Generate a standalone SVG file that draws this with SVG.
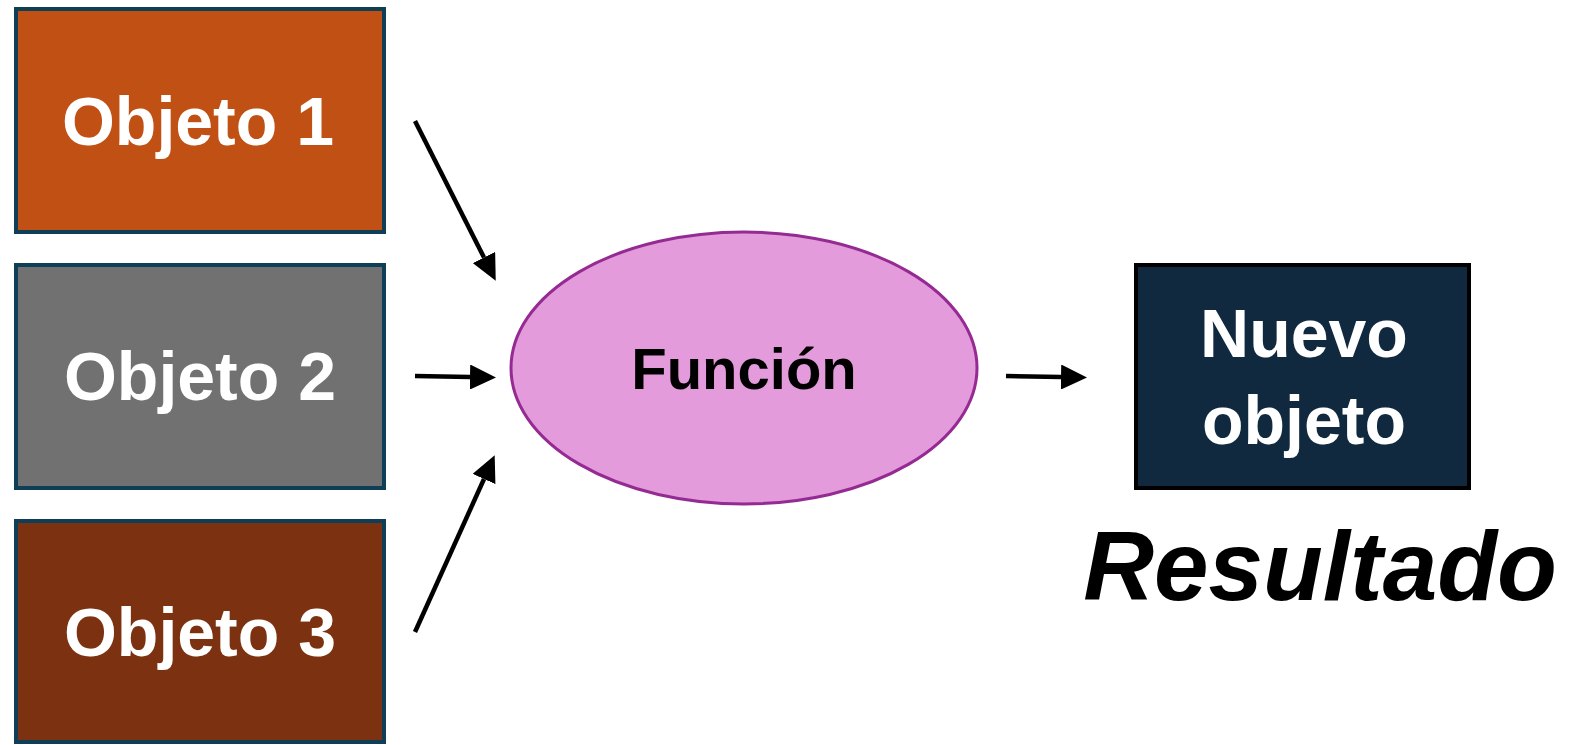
<svg xmlns="http://www.w3.org/2000/svg" width="1570" height="745" viewBox="0 0 1570 745">
  <style>
    .box { stroke: #0e3f56; stroke-width: 4; }
    .label { font-family: "Liberation Sans", Arial, sans-serif; font-weight: bold; text-anchor: middle; }
    .white { fill: #ffffff; font-size: 68px; }
    .conn { stroke: #000000; stroke-width: 4.5; fill: none; marker-end: url(#head); }
  </style>
  <defs>
    <!-- arrowhead starts where the line stops -->
    <marker id="head" markerUnits="userSpaceOnUse" markerWidth="27" markerHeight="25" refX="0" refY="12.5" orient="auto">
      <path d="M0,0 L26,12.5 L0,25 Z" fill="#000000"/>
    </marker>
  </defs>
  <rect width="1570" height="745" fill="#ffffff"/>

  <g id="obj1">
    <rect class="box" x="16" y="9" width="368" height="223" fill="#c05014"/>
    <text class="label white" x="198" y="145">Objeto 1</text>
  </g>
  <g id="obj2">
    <rect class="box" x="16" y="265" width="368" height="223" fill="#717171"/>
    <text class="label white" x="200" y="400">Objeto 2</text>
  </g>
  <g id="obj3">
    <rect class="box" x="16" y="521" width="368" height="221" fill="#7c3210"/>
    <text class="label white" x="200" y="656">Objeto 3</text>
  </g>

  <g id="funcion">
    <ellipse cx="744" cy="368" rx="233" ry="136" fill="#e39bdb" stroke="#952b92" stroke-width="3"/>
    <text class="label" x="744" y="389" font-size="58" fill="#000000">Función</text>
  </g>

  <g id="nuevo">
    <rect x="1136" y="265" width="333" height="223" fill="#10293f" stroke="#000000" stroke-width="4"/>
    <text class="label white" x="1304" y="357">Nuevo</text>
    <text class="label white" x="1304" y="444">objeto</text>
  </g>

  <g id="resultado">
    <text class="label" x="1320" y="600" font-size="98" font-style="italic" fill="#000000">Resultado</text>
  </g>

  <g id="connectors">
    <line class="conn" x1="415" y1="121" x2="484" y2="257.5"/>
    <line class="conn" x1="415" y1="376" x2="470" y2="377"/>
    <line class="conn" x1="415" y1="632" x2="484" y2="479"/>
    <line class="conn" x1="1006" y1="376" x2="1061" y2="377"/>
  </g>
</svg>
